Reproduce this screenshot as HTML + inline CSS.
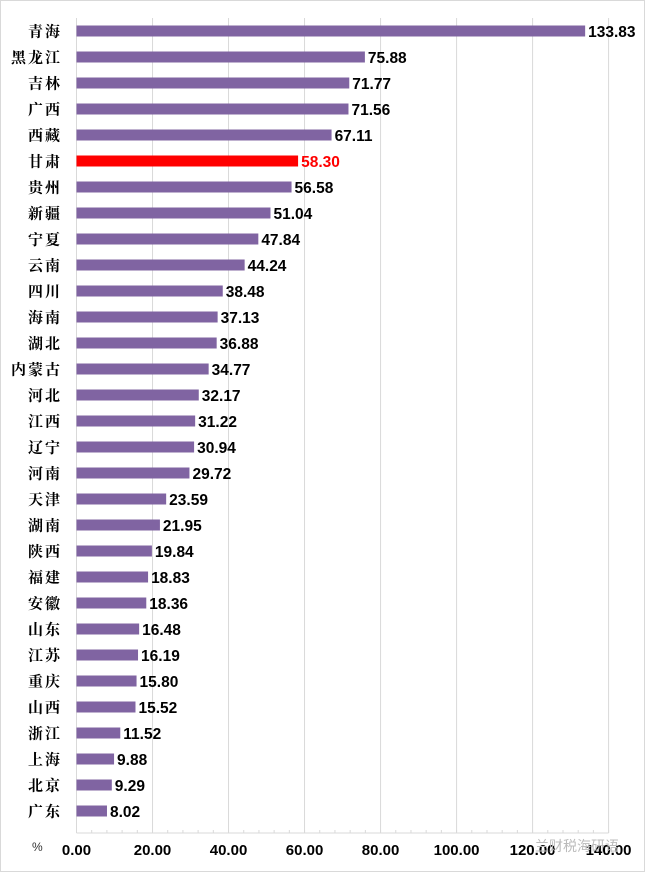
<!DOCTYPE html>
<html><head><meta charset="utf-8"><style>
body{margin:0;background:#fff;}
svg{display:block;}
.cat{font-family:"Noto Serif CJK SC","WenQuanYi Zen Hei",serif;font-size:15px;font-weight:bold;fill:#000;letter-spacing:2px;}
.val{font-family:"Liberation Sans","Noto Sans CJK SC",sans-serif;font-size:15.5px;font-weight:bold;}
.tick{font-family:"Liberation Sans",sans-serif;font-size:15px;font-weight:bold;fill:#000;}
</style></head><body>
<svg id="chart" width="645" height="872">
<rect x="0.5" y="0.5" width="644" height="871" fill="#fff" stroke="#d9d9d9"/>
<g id="grid"></g><g id="bars"></g><g id="axis"></g>
<text x="32" y="851" font-family="Liberation Sans,sans-serif" font-size="12" fill="#333">%</text>
<text x="535" y="851" font-family="Liberation Sans,Noto Sans CJK SC,sans-serif" font-size="14" fill="#bbb">兰财税海研语</text>
</svg>
<script>
const categories=["青海","黑龙江","吉林","广西","西藏","甘肃","贵州","新疆","宁夏","云南","四川","海南","湖北","内蒙古","河北","江西","辽宁","河南","天津","湖南","陕西","福建","安徽","山东","江苏","重庆","山西","浙江","上海","北京","广东"];
const values=[133.83,75.88,71.77,71.56,67.11,58.30,56.58,51.04,47.84,44.24,38.48,37.13,36.88,34.77,32.17,31.22,30.94,29.72,23.59,21.95,19.84,18.83,18.36,16.48,16.19,15.80,15.52,11.52,9.88,9.29,8.02];
const ticks=[0,20,40,60,80,100,120,140];
const highlight="甘肃";
const X0=76.5,X1=608.6,MAX=140,Y0=18,Y1=833;
const x=v=>X0+(X1-X0)*v/MAX;
const step=26;
const y=i=>31+step*i;
const NS="http://www.w3.org/2000/svg";
function mk(t,a,p){const e=document.createElementNS(NS,t);for(const k in a)e.setAttribute(k,a[k]);p.appendChild(e);return e;}
const grid=document.getElementById('grid'),bars=document.getElementById('bars'),axis=document.getElementById('axis');
ticks.forEach(t=>{
 const l=mk('line',{x1:x(t),x2:x(t),y1:Y0,y2:Y1,stroke:'#d9d9d9','stroke-width':1},grid);
 
 
 const tx=mk('text',{x:x(t),y:855,'text-anchor':'middle',class:'tick'},axis);
 tx.textContent=t.toFixed(2);
 
 
});
for(let v=0;v<=MAX;v+=4){const m=mk('line',{x1:x(v),x2:x(v),y1:Y1,y2:Y1-3,stroke:'#d9d9d9'},axis);
 
 }
const ax=mk('line',{x1:X0,x2:X1,y1:Y1,y2:Y1,stroke:'#d9d9d9'},axis);


categories.forEach((c,i)=>{
 const hi=c===highlight;
 const col=hi?'#ff0000':'#8064a2';
 const r=mk('rect',{x:X0,y:y(i)-5.5,width:x(values[i])-X0,height:11,fill:col},bars);
 
 
 const lt=mk('text',{x:62,y:y(i)+5.5,'text-anchor':'end',class:'cat'},bars);
 lt.textContent=c;
 
 
 const vt=mk('text',{x:x(values[i])+3,y:y(i)+6,class:'val',fill:hi?'#ff0000':'#000'},bars);
 vt.textContent=values[i].toFixed(2);
 
 
});
</script>
</body></html>
